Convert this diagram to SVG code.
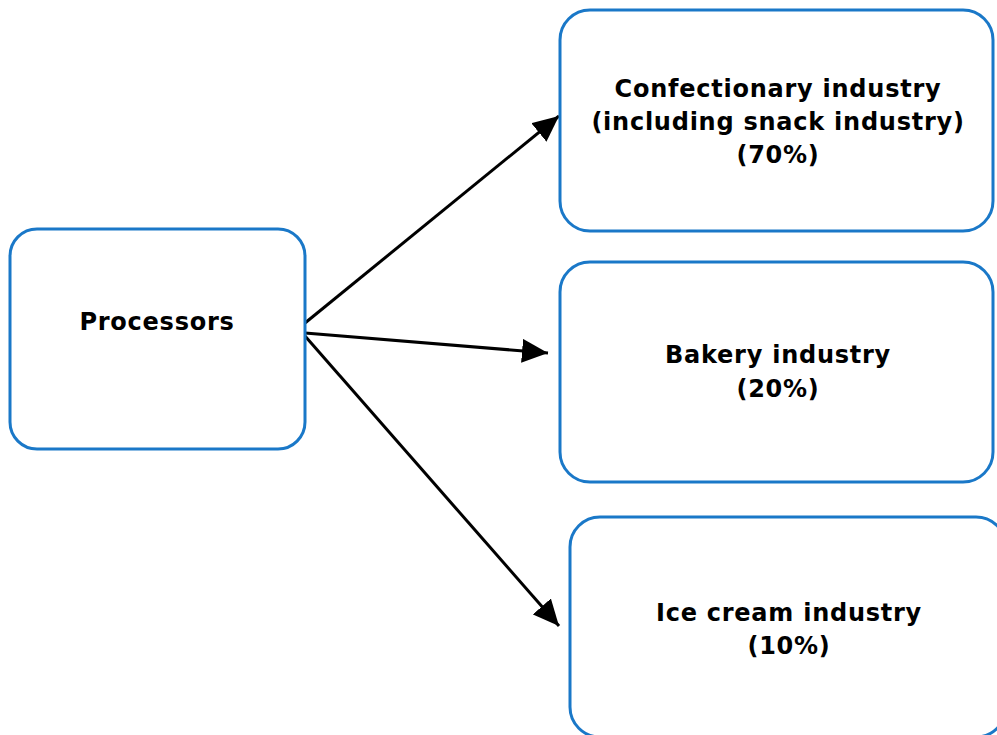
<svg xmlns="http://www.w3.org/2000/svg" width="997" height="735" viewBox="0 0 997 735">
<style>
.box{fill:#ffffff;stroke:#1a78c8;stroke-width:3}
.lbl{font-family:"DejaVu Sans","Liberation Sans",sans-serif;font-weight:bold;font-size:24px;letter-spacing:0.75px;fill:#000;text-anchor:middle}
.conn{stroke:#000;stroke-width:3;fill:none}
</style>
<defs>
<marker id="ah" markerUnits="userSpaceOnUse" markerWidth="28" markerHeight="24" refX="26" refY="12" orient="auto">
<path d="M0,0 L26,12 L0,24 Z" fill="#000"/>
</marker>
</defs>
<rect width="997" height="735" fill="#fff"/>
<g id="connectors">
<line class="conn" x1="305" y1="323" x2="559" y2="116" marker-end="url(#ah)"/>
<line class="conn" x1="305" y1="333" x2="548" y2="353" marker-end="url(#ah)"/>
<line class="conn" x1="305" y1="336" x2="559" y2="626" marker-end="url(#ah)"/>
</g>
<g id="processors">
<rect class="box" x="10" y="229" width="295" height="220" rx="27" ry="27"/>
<text class="lbl" x="157" y="330">Processors</text>
</g>
<g id="confectionary">
<rect class="box" x="560" y="10" width="433" height="221" rx="30" ry="30"/>
<text class="lbl" x="778" y="97">Confectionary industry</text>
<text class="lbl" x="778" y="130">(including snack industry)</text>
<text class="lbl" x="778" y="163">(70%)</text>
</g>
<g id="bakery">
<rect class="box" x="560" y="262" width="433" height="220" rx="30" ry="30"/>
<text class="lbl" x="778" y="363">Bakery industry</text>
<text class="lbl" x="778" y="397">(20%)</text>
</g>
<g id="icecream">
<rect class="box" x="570" y="517" width="436" height="220" rx="30" ry="30"/>
<text class="lbl" x="789" y="621">Ice cream industry</text>
<text class="lbl" x="789" y="654">(10%)</text>
</g>
</svg>
